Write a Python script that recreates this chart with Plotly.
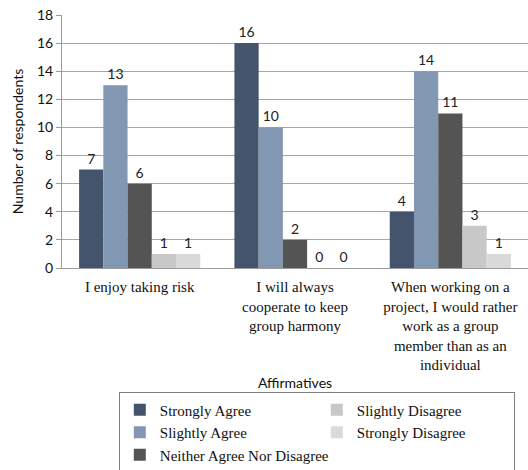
import plotly.graph_objects as go

categories = [
    "I enjoy taking risk",
    "I will always<br>cooperate to keep<br>group harmony",
    "When working on a<br>project, I would rather<br>work as a group<br>member than as an<br>individual",
]
series_names = [
    "Strongly Agree",
    "Slightly Agree",
    "Neither Agree Nor Disagree",
    "Slightly Disagree",
    "Strongly Disagree",
]
strongly_agree = [7, 16, 4]
slightly_agree = [13, 10, 14]
neither = [6, 2, 11]
slightly_disagree = [1, 0, 3]
strongly_disagree = [1, 0, 1]
y_ticks = [0, 2, 4, 6, 8, 10, 12, 14, 16, 18]

series_values = [strongly_agree, slightly_agree, neither, slightly_disagree, strongly_disagree]
colors = ["#44546c", "#8297b2", "#545454", "#c8c8c8", "#dadada"]
# legend laid out in two columns, filled top to bottom
legend_ranks = [1, 3, 5, 2, 4]

fig = go.Figure()
for name, vals, col, rank in zip(series_names, series_values, colors, legend_ranks):
    fig.add_trace(go.Bar(
        name=name,
        x=categories,
        y=vals,
        marker=dict(color=col, line=dict(width=0)),
        text=[str(v) for v in vals],
        textposition="outside",
        textfont=dict(family="Lato, sans-serif", size=14, color="#222222"),
        cliponaxis=False,
        legendrank=rank,
    ))

fig.update_layout(
    width=528,
    height=470,
    margin=dict(l=62, r=0, t=15, b=202),
    paper_bgcolor="white",
    plot_bgcolor="white",
    barmode="group",
    bargap=0.22,
    bargroupgap=0,
    showlegend=True,
    legend=dict(
        orientation="h",
        xref="container",
        yref="container",
        x=0.225,
        xanchor="left",
        y=0.165,
        yanchor="top",
        entrywidth=152,
        bordercolor="#7f7f7f",
        borderwidth=1,
        font=dict(family="Liberation Serif, Times New Roman, serif", size=15, color="#111111"),
        itemwidth=30,
        tracegroupgap=0,
    ),
    xaxis=dict(
        tickfont=dict(family="Liberation Serif, Times New Roman, serif", size=15, color="#111111"),
        title=dict(text="Affirmatives", font=dict(family="Lato, sans-serif", size=14, color="#111111"), standoff=6),
        showline=True,
        linecolor="#9a9a9a",
        linewidth=1,
        ticks="",
        tickangle=0,
        ticklabelstandoff=5,
    ),
    yaxis=dict(
        range=[0, 18],
        tickvals=y_ticks,
        tickfont=dict(family="Lato, sans-serif", size=14, color="#111111"),
        title=dict(text="Number of respondents", font=dict(family="Lato, sans-serif", size=14, color="#111111"), standoff=10),
        showgrid=True,
        gridcolor="#a6a6a6",
        gridwidth=1,
        showline=True,
        linecolor="#9a9a9a",
        linewidth=1,
        ticks="outside",
        ticklen=5,
        tickcolor="#9a9a9a",
        zeroline=False,
    ),
)

fig.write_html("out.html")
